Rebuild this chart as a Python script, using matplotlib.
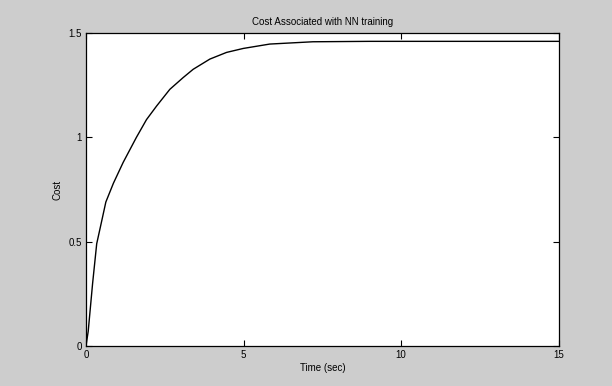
import matplotlib.pyplot as plt
import numpy as np

# cost curve
time_sec = [0.0, 0.07, 0.21, 0.34, 0.50, 0.63, 0.87, 1.18, 1.6, 1.92, 2.24, 2.66,
            3.08, 3.4, 3.93, 4.46, 4.99, 5.83, 7.2, 9.0, 12.8, 15.0]
cost = [0.0, 0.07, 0.30, 0.49, 0.60, 0.69, 0.78, 0.88, 1.0, 1.085, 1.15, 1.23,
        1.286, 1.326, 1.375, 1.407, 1.426, 1.447, 1.458, 1.46, 1.46, 1.46]

x_ticks = [0, 5, 10, 15]
y_ticks = [0, 0.5, 1, 1.5]
y_ticklabels = ['0', '0.5', '1', '1.5']

plt.rcParams['font.family'] = ['Liberation Sans', 'DejaVu Sans']

fig = plt.figure(figsize=(6.12, 3.86), dpi=100)
fig.patch.set_facecolor('#cdcdcd')
ax = fig.add_axes([0.1405, 0.1036, 0.7725, 0.8109])
ax.set_facecolor('white')

ax.plot(time_sec, cost, color='black', linewidth=1.0)

ax.set_xlim(0, 15)
ax.set_ylim(0, 1.5)
ax.set_xticks(x_ticks)
ax.set_yticks(y_ticks)
ax.set_yticklabels(y_ticklabels)
ax.tick_params(direction='in', top=True, right=True, length=4, width=0.8,
               labelsize=7, pad=3)
for s in ax.spines.values():
    s.set_linewidth(0.9)

ax.set_title('Cost Associated with NN training', fontsize=7, pad=6)
ax.set_xlabel('Time (sec)', fontsize=7, labelpad=2)
ax.set_ylabel('Cost', fontsize=7, labelpad=4)

fig.savefig('out.png', dpi=100, facecolor=fig.get_facecolor())
